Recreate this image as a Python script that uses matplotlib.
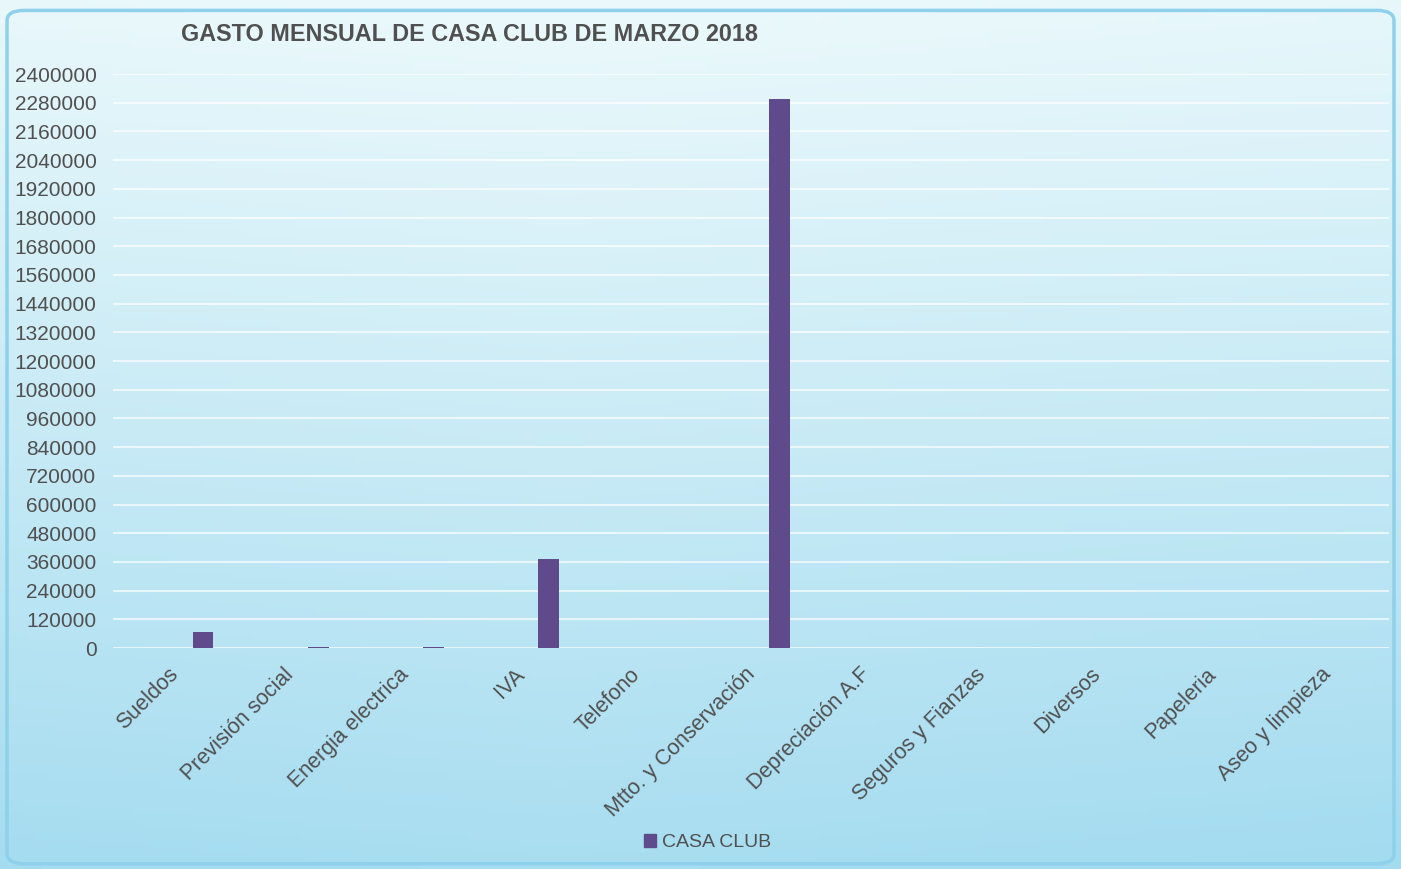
import numpy as np
from matplotlib import pyplot as plt
from matplotlib import transforms
from matplotlib.patches import FancyBboxPatch, Patch

categorias = ['Sueldos', 'Previsión social', 'Energia electrica', 'IVA', 'Telefono',
              'Mtto. y Conservación', 'Depreciación A.F', 'Seguros y Fianzas',
              'Diversos', 'Papeleria', 'Aseo y limpieza']
casa_club = [68000, 6000, 4000, 372000, 0, 2295000, 0, 0, 0, 0, 0]
yticks = list(range(0, 2400001, 120000))

gris = '#505050'
morado = '#5f4b8b'
plt.rcParams['font.family'] = ['Liberation Sans', 'DejaVu Sans']

fig = plt.figure(figsize=(14.01, 8.69), dpi=100)

# fondo degradado: casi blanco arriba, azul abajo
bg = fig.add_axes([0, 0, 1, 1], zorder=-10)
xx, yy = np.meshgrid(np.linspace(0, 1, 200), np.linspace(0, 1, 200))
t = np.clip(0.95 * yy + 0.12 * (1 - np.abs(xx - 0.4)) - 0.05, 0, 1)
c1 = np.array([0.64, 0.86, 0.94])
c2 = np.array([0.92, 0.975, 0.985])
img = c1[None, None, :] * (1 - t[..., None]) + c2[None, None, :] * t[..., None]
bg.imshow(img, extent=[0, 1, 0, 1], origin='lower', aspect='auto')
bg.add_patch(FancyBboxPatch((0.005, 0.006), 0.990, 0.982,
                            boxstyle='round,pad=0,rounding_size=0.012',
                            fill=False, ec='#8fd0ea', lw=2.5, transform=bg.transAxes))
bg.set_xlim(0, 1)
bg.set_ylim(0, 1)
bg.axis('off')

ax = fig.add_axes([0.0807, 0.2543, 0.911, 0.6605])
ax.patch.set_alpha(0)
x = np.arange(len(categorias))
ax.bar(x, casa_club, width=0.18, color=morado, zorder=3, label='CASA CLUB')

ax.set_xlim(-0.78, 10.29)
ax.set_ylim(0, 2400000)
ax.set_yticks(yticks)
ax.set_yticklabels([str(v) for v in yticks], fontsize=15, color=gris)
ax.yaxis.grid(True, color='white', lw=1.2, alpha=0.8)
ax.set_axisbelow(True)
ax.set_xticks(x)
ax.set_xticklabels([])
desplaz = transforms.ScaledTranslation(-0.35, -0.16, fig.dpi_scale_trans)
for i, cat in enumerate(categorias):
    ax.text(i, 0, cat, transform=ax.get_xaxis_transform() + desplaz,
            rotation=45, ha='right', va='top', rotation_mode='anchor',
            fontsize=15.5, color=gris)
ax.tick_params(axis='both', length=0)
ax.tick_params(axis='y', pad=12)
for s in ax.spines.values():
    s.set_visible(False)

fig.text(0.335, 0.960, 'GASTO MENSUAL DE CASA CLUB DE MARZO 2018', ha='center', va='center',
         fontsize=16.8, fontweight='bold', color=gris)

fig.legend(handles=[Patch(color=morado, label='CASA CLUB')], loc='center',
           bbox_to_anchor=(0.505, 0.030), frameon=False, fontsize=14,
           labelcolor=gris, handlelength=0.6, handleheight=0.6, handletextpad=0.3)

plt.savefig('out.png', dpi=100)
